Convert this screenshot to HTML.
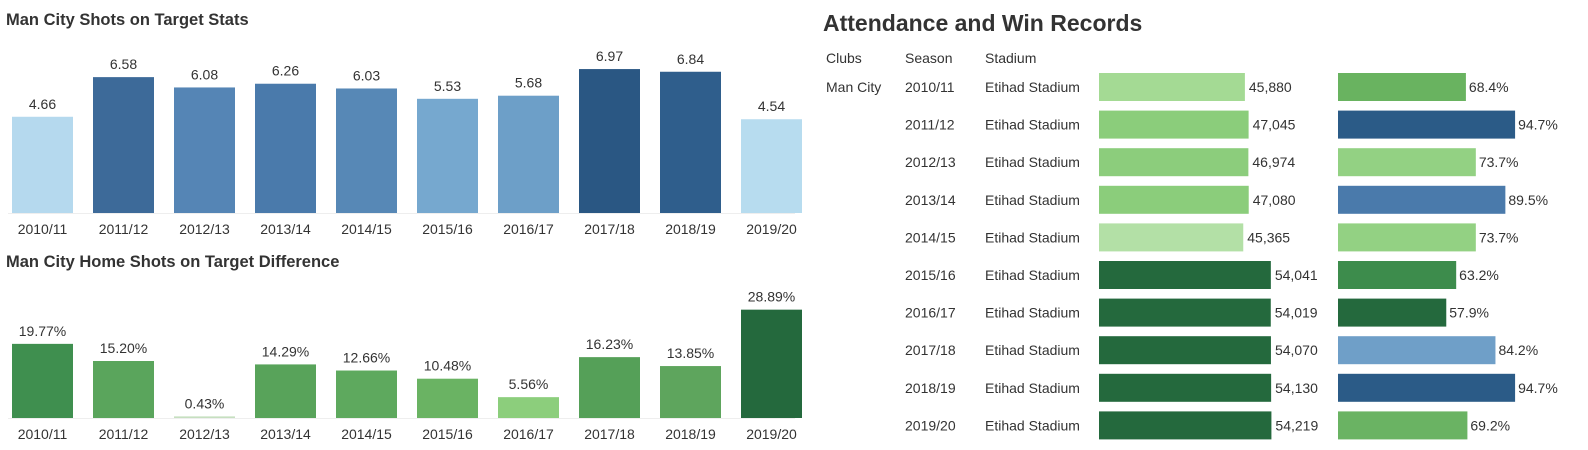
<!DOCTYPE html>
<html><head><meta charset="utf-8"><style>
html,body{margin:0;padding:0;background:#fff;width:1588px;height:450px;overflow:hidden;font-family:"Liberation Sans",sans-serif;}
svg text{font-family:"Liberation Sans",sans-serif;}
</style></head><body>
<svg id="chart" width="1588" height="450" viewBox="0 0 1588 450">
<text x="6" y="25" font-size="16.5" font-weight="bold" fill="#333">Man City Shots on Target Stats</text>
<text x="6" y="267" font-size="16.5" font-weight="bold" fill="#333">Man City Home Shots on Target Difference</text>
<text x="823" y="31" font-size="23" font-weight="bold" fill="#333">Attendance and Win Records</text>
<text x="826" y="63" font-size="14" fill="#333">Clubs</text>
<text x="905" y="63" font-size="14" fill="#333">Season</text>
<text x="985" y="63" font-size="14" fill="#333">Stadium</text>
<text x="826" y="92" font-size="14" fill="#333">Man City</text>
<line x1="8" y1="213.5" x2="795" y2="213.5" stroke="#eee"/>
<line x1="8" y1="418.5" x2="795" y2="418.5" stroke="#eee"/>
<g id="g"></g>
</svg>
<script>
const seasons = ["2010/11","2011/12","2012/13","2013/14","2014/15","2015/16","2016/17","2017/18","2018/19","2019/20"];
const shotsValues = [4.66,6.58,6.08,6.26,6.03,5.53,5.68,6.97,6.84,4.54];
const diffValues = [19.77,15.20,0.43,14.29,12.66,10.48,5.56,16.23,13.85,28.89];
const attendanceValues = [45880,47045,46974,47080,45365,54041,54019,54070,54130,54219];
const winValues = [68.4,94.7,73.7,89.5,73.7,63.2,57.9,84.2,94.7,69.2];
const shotsColors = ["#b5d9ee","#3d6a99","#5585b5","#4a7aab","#5788b6","#76a8cf","#6d9fc8","#2a5783","#2f5e8c","#b7dcef"];
const diffColors = ["#3f8f4f","#5aa55c","#c6dfc0","#58a35a","#5ea95e","#6ab363","#8cce7c","#55a058","#5ea55d","#24693d"];
const attColors = ["#a4da94","#8bcd7b","#8ccd7c","#8bcd7b","#b3e0a6","#24693d","#24693d","#24693d","#24693d","#24693d"];
const winColors = ["#69b360","#2b5b87","#93d183","#4a7aab","#93d183","#3d8c4c","#24693d","#6f9fc8","#2b5b87","#6ab363"];

const NS="http://www.w3.org/2000/svg", g=document.getElementById('g');
function mk(tag,attrs,text){const e=document.createElementNS(NS,tag);for(const k in attrs)e.setAttribute(k,attrs[k]);if(text!==undefined)e.textContent=text;g.appendChild(e);return e;}
const xCol=i=>12+i*81, bw=61;
const yShots=v=>213-v*20.65, yDiff=v=>418-v*3.75;
const xAtt=v=>v*0.00318, xWin=v=>v*1.87;
const rowY=i=>73+i*37.6;

seasons.forEach((s,i)=>{
  let r=mk('rect',{x:xCol(i),y:yShots(shotsValues[i]),width:bw,height:213-yShots(shotsValues[i]),fill:shotsColors[i]});
  
  
  let t=mk('text',{x:xCol(i)+bw/2,y:yShots(shotsValues[i])-8,'text-anchor':'middle','font-size':14,fill:'#333'},shotsValues[i].toFixed(2));
  
  
  t=mk('text',{x:xCol(i)+bw/2,y:234,'text-anchor':'middle','font-size':14,fill:'#333'},s);
  
  

  r=mk('rect',{x:xCol(i),y:yDiff(diffValues[i]),width:bw,height:418-yDiff(diffValues[i]),fill:diffColors[i]});
  
  
  t=mk('text',{x:xCol(i)+bw/2,y:yDiff(diffValues[i])-8,'text-anchor':'middle','font-size':14,fill:'#333'},diffValues[i].toFixed(2)+'%');
  
  
  t=mk('text',{x:xCol(i)+bw/2,y:439,'text-anchor':'middle','font-size':14,fill:'#333'},s);
  
  

  const y=rowY(i), cy=y+19;
  t=mk('text',{x:905,y:cy,'font-size':14,fill:'#333'},s);
  
  
  t=mk('text',{x:985,y:cy,'font-size':14,fill:'#333'},'Etihad Stadium');
  
  
  const aw=xAtt(attendanceValues[i]);
  r=mk('rect',{x:1099,y:y,width:aw,height:28,fill:attColors[i]});
  
  
  t=mk('text',{x:1099+aw+4,y:cy,'font-size':14,fill:'#333'},attendanceValues[i].toLocaleString('en-US'));
  
  
  const ww=xWin(winValues[i]);
  r=mk('rect',{x:1338,y:y,width:ww,height:28,fill:winColors[i]});
  
  
  t=mk('text',{x:1338+ww+3,y:cy,'font-size':14,fill:'#333'},winValues[i].toFixed(1)+'%');
  
  
});
</script>
</body></html>
